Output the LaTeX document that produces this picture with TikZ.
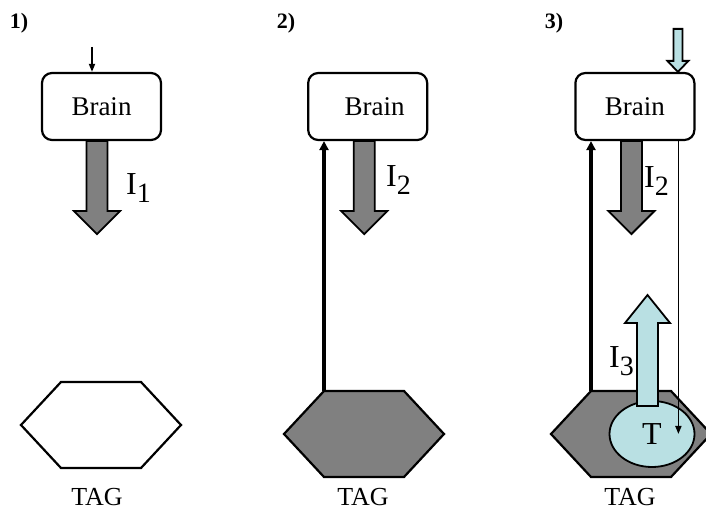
\documentclass[tikz,border=0pt]{standalone}
\usepackage{fontspec}
\setmainfont{Liberation Serif}
\usepackage{tikz}
\usetikzlibrary{positioning}
\usetikzlibrary{calc}
\usetikzlibrary{arrows.meta}
\usetikzlibrary{shapes.geometric}

\definecolor{tagGray}{RGB}{128,128,128}
\definecolor{paleCyan}{RGB}{185,224,227}

\newcommand{\Icur}[1]{I\raisebox{-8pt}{\fontsize{28}{28}\selectfont #1}}

\tikzset{
	brainBox/.style={
		draw,
		line width=2.2pt,
		rounded corners=10pt,
		fill=white,
		minimum width=119pt,
		minimum height=67pt,
		font=\fontsize{27}{32}\selectfont
	},
	tagShape/.style={draw, line width=2.2pt},
	fatArrow/.style={draw, line width=1.8pt, fill=tagGray},
	blueArrow/.style={draw, line width=1.8pt, fill=paleCyan},
	thinArrow/.style={line width=1.7pt, -{Triangle[length=8pt,width=6pt]}},
	thickArrow/.style={line width=3.5pt, -{Triangle[length=9pt,width=9pt]}},
	panelLabel/.style={font=\fontsize{22}{26}\selectfont\bfseries},
	tagLabel/.style={anchor=base, inner sep=0pt, font=\fontsize{26}{30}\selectfont},
	curLabel/.style={anchor=base west, inner sep=0pt, font=\fontsize{32}{36}\selectfont}
}

\begin{document}
\begin{tikzpicture}[x=1pt, y=1pt]

	\useasboundingbox (0,0) rectangle (706,511);

	\node[panelLabel] (lab1) at (19,488) {1)};
	\node[panelLabel] (lab2) at (286,488) {2)};
	\node[panelLabel] (lab3) at (554,488) {3)};

	\node[brainBox] (brain1) at (101.5,404.5) {Brain};
	\node[brainBox, right=145pt of brain1] (brain2) {\hspace*{14pt}Brain};
	\node[brainBox, right=146pt of brain2] (brain3) {Brain};

	\draw[fatArrow] ([xshift=-15pt]brain1.south) -- ++(0,-70) -- ++(-12.5,0)
		-- ++(23,-23) -- ++(23,23) -- ++(-12.5,0) -- ++(0,70) -- cycle;
	\draw[fatArrow] ([xshift=-14pt]brain2.south) -- ++(0,-70) -- ++(-12.5,0)
		-- ++(23,-23) -- ++(23,23) -- ++(-12.5,0) -- ++(0,70) -- cycle;
	\draw[fatArrow] ([xshift=-14pt]brain3.south) -- ++(0,-70) -- ++(-12.5,0)
		-- ++(23,-23) -- ++(23,23) -- ++(-12.5,0) -- ++(0,70) -- cycle;

	\node[curLabel] (cur1) at (126,316) {\Icur{1}};
	\node[curLabel] (cur2) at (386,324) {\Icur{2}};
	\node[curLabel] (cur3) at (644,323) {\Icur{2}};

	\coordinate (in1) at (92,464);
	\draw[thinArrow] (in1) -- (in1 |- brain1.north);

	\draw[blueArrow] ([xshift=43pt]brain3.north) -- ++(-10.5,11) -- ++(6,0)
		-- ++(0,32) -- ++(9,0) -- ++(0,-32) -- ++(6,0) -- cycle;

	\coordinate (hex1) at (101,86);
	\coordinate (hex2) at (364,77);
	\coordinate (hex3) at (631,77);

	\draw[tagShape, fill=white] (hex1) ++(-80,0) -- ++(40,43) coordinate (hex1tl)
		-- ++(80,0) -- ++(40,-43) -- ++(-40,-43) -- ++(-80,0) -- cycle;
	\draw[tagShape, fill=tagGray] (hex2) ++(-80,0) -- ++(40,43) coordinate (hex2tl)
		-- ++(80,0) -- ++(40,-43) -- ++(-40,-43) -- ++(-80,0) -- cycle;
	\draw[tagShape, fill=tagGray] (hex3) ++(-80,0) -- ++(40,43) coordinate (hex3tl)
		-- ++(80,0) -- ++(40,-43) -- ++(-40,-43) -- ++(-80,0) -- cycle;

	\node[tagLabel] (tag1) at (97,6) {TAG};
	\node[tagLabel] (tag2) at (363,6) {TAG};
	\node[tagLabel] (tag3) at (630,6) {TAG};

	\draw[thickArrow] (hex2tl) -- (hex2tl |- brain2.south);
	\draw[thickArrow] (hex3tl) -- (hex3tl |- brain3.south);

	\node[
		draw,
		ellipse,
		line width=1.8pt,
		fill=paleCyan,
		minimum width=85pt,
		minimum height=66pt,
		font=\fontsize{32}{36}\selectfont
	] (tok) at (652,77) {T};

	\draw[blueArrow] ([xshift=-15pt, yshift=28pt]tok.center) -- ++(0,83) -- ++(-12,0)
		-- ++(22.5,28) -- ++(22.5,-28) -- ++(-12,0) -- ++(0,-83) -- cycle;

	\draw[thinArrow] ([xshift=43.5pt]brain3.south) -- ([xshift=43.5pt]brain3.south |- tok.center);

	\node[curLabel] (cur4) at (609,143) {\Icur{3}};

\end{tikzpicture}
\end{document}
